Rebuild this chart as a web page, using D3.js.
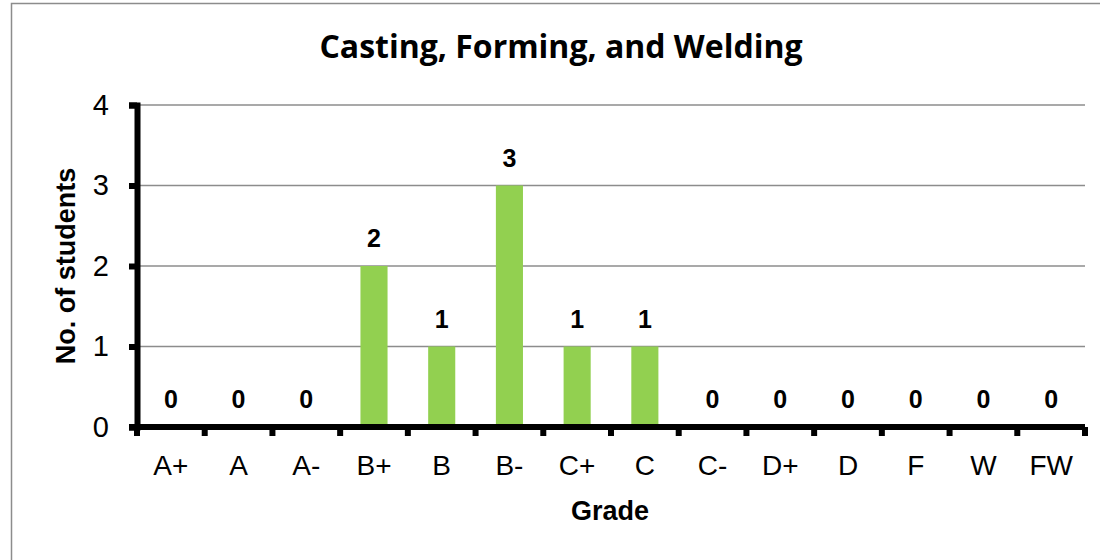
<!DOCTYPE html>
<html>
<head>
<meta charset="utf-8">
<script src="https://cdn.jsdelivr.net/npm/d3@7"></script>
<style>
  body { margin: 0; background: #fff; }
  svg { display: block; }
</style>
</head>
<body>
<div id="chart"></div>
<script>
// data
var grades = ["A+", "A", "A-", "B+", "B", "B-", "C+", "C", "C-", "D+", "D", "F", "W", "FW"];
var students = [0, 0, 0, 2, 1, 3, 1, 1, 0, 0, 0, 0, 0, 0];
var yTicks = [0, 1, 2, 3, 4];

var width = 1100, height = 560;
var margin = {top: 105, right: 15, bottom: 133, left: 137};
var sans = "Liberation Sans, Arial, sans-serif";

var svg = d3.select("#chart").append("svg")
    .attr("width", width)
    .attr("height", height);

// outer frame (only top and left edges are inside the picture)
svg.append("path")
    .attr("d", "M11.5," + (height + 5) + "V3.5H" + (width + 5))
    .attr("fill", "none")
    .attr("stroke", "#8c8c8c")
    .attr("stroke-width", 1.5);

var x = d3.scaleBand()
    .domain(grades)
    .range([margin.left, width - margin.right])
    .paddingInner(0.6)
    .paddingOuter(0.3);

var y = d3.scaleLinear()
    .domain([0, 4])
    .range([height - margin.bottom, margin.top]);

// gridlines
svg.append("g")
    .selectAll("line")
    .data(yTicks.filter(function(d) { return d > 0; }))
    .enter().append("line")
    .attr("x1", margin.left).attr("x2", width - margin.right)
    .attr("y1", function(d) { return y(d); })
    .attr("y2", function(d) { return y(d); })
    .attr("stroke", "#8c8c8c")
    .attr("stroke-width", 1.5);

// bars
svg.append("g")
    .selectAll("rect")
    .data(students)
    .enter().append("rect")
    .attr("x", function(d, i) { return x(grades[i]); })
    .attr("y", function(d) { return y(d); })
    .attr("width", x.bandwidth())
    .attr("height", function(d) { return y(0) - y(d); })
    .attr("fill", "#92d050");

// value labels
svg.append("g")
    .selectAll("text")
    .data(students)
    .enter().append("text")
    .attr("x", function(d, i) { return x(grades[i]) + x.bandwidth() / 2; })
    .attr("y", function(d) { return y(d) - 19; })
    .attr("text-anchor", "middle")
    .style("font-family", sans)
    .style("font-weight", "bold")
    .style("font-size", "25px")
    .text(function(d) { return d; });

// y axis
var yAxis = svg.append("g")
    .attr("transform", "translate(" + margin.left + ",0)")
    .call(d3.axisLeft(y).tickValues(yTicks).tickSize(8).tickPadding(20).tickFormat(d3.format("d")));
yAxis.select(".domain").attr("stroke", "#000").attr("stroke-width", 6);
yAxis.selectAll(".tick line").attr("stroke", "#000").attr("stroke-width", 6);
yAxis.selectAll("text")
    .style("font-family", sans)
    .style("font-size", "29px")
    .attr("fill", "#000");

// x axis, ticks between categories
var step = x.step();
var xAxis = svg.append("g")
    .attr("transform", "translate(0," + (height - margin.bottom) + ")");
xAxis.append("line")
    .attr("x1", margin.left - 8).attr("x2", width - margin.right)
    .attr("stroke", "#000").attr("stroke-width", 6);
xAxis.selectAll(".sep")
    .data(d3.range(grades.length + 1))
    .enter().append("line")
    .attr("class", "sep")
    .attr("x1", function(i) { return margin.left + i * step; })
    .attr("x2", function(i) { return margin.left + i * step; })
    .attr("y1", 0).attr("y2", 9)
    .attr("stroke", "#000").attr("stroke-width", 6);
xAxis.selectAll(".lab")
    .data(grades)
    .enter().append("text")
    .attr("class", "lab")
    .attr("x", function(d) { return x(d) + x.bandwidth() / 2; })
    .attr("y", 48)
    .attr("text-anchor", "middle")
    .style("font-family", sans)
    .style("font-size", "28px")
    .text(function(d) { return d; });

// titles
svg.append("text")
    .attr("x", 561).attr("y", 58)
    .attr("text-anchor", "middle")
    .style("font-family", "Open Sans, sans-serif")
    .style("font-weight", "bold")
    .style("font-size", "32px")
    .text("Casting, Forming, and Welding");

svg.append("text")
    .attr("x", 610).attr("y", 520)
    .attr("text-anchor", "middle")
    .style("font-family", sans)
    .style("font-weight", "bold")
    .style("font-size", "27px")
    .text("Grade");

svg.append("text")
    .attr("transform", "translate(75,266) rotate(-90)")
    .attr("text-anchor", "middle")
    .style("font-family", sans)
    .style("font-weight", "bold")
    .style("font-size", "27px")
    .text("No. of students");
</script>
</body>
</html>
